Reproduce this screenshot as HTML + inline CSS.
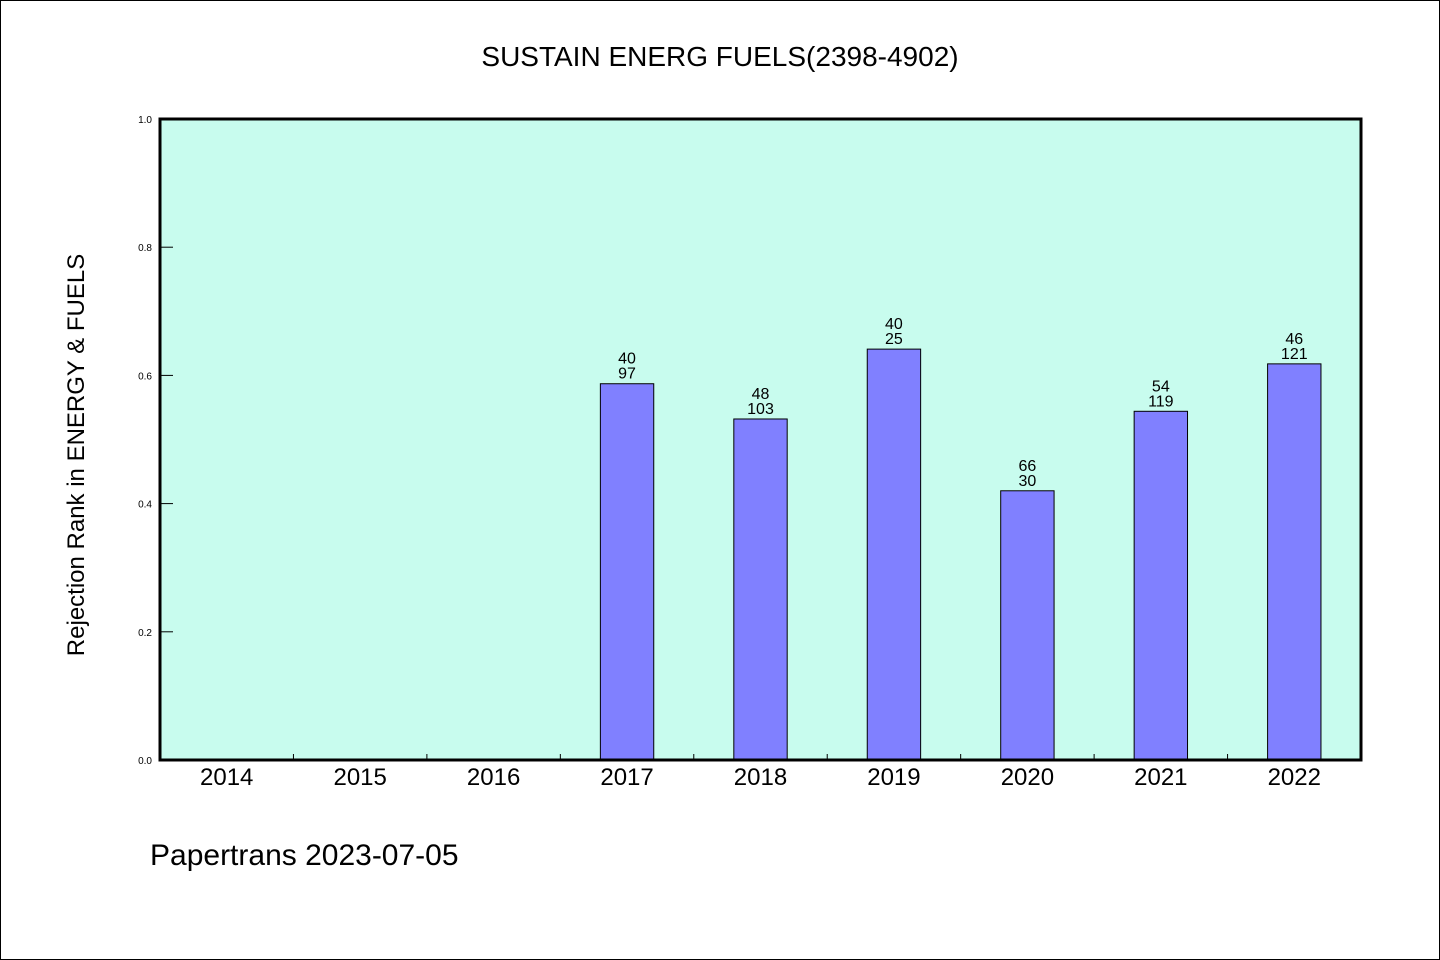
<!DOCTYPE html>
<html><head><meta charset="utf-8"><style>
body{margin:0;background:#fff;}
svg{display:block;}
text{font-family:"WenQuanYi Zen Hei","Liberation Sans",sans-serif;fill:#000;}
</style></head><body>
<svg id="chart" width="1440" height="960">
<rect x="0.5" y="0.5" width="1439" height="959" fill="#fff" stroke="#000"/>
<text x="720" y="66" font-size="28" text-anchor="middle">SUSTAIN ENERG FUELS(2398-4902)</text>
<rect x="160" y="119" width="1201" height="641" fill="#c8fcee"/>
<g id="marks"></g>
<rect x="160" y="119" width="1201" height="641" fill="none" stroke="#000" stroke-width="3"/>
<text transform="translate(84,455) rotate(-90)" font-size="24" text-anchor="middle">Rejection Rank in ENERGY &amp; FUELS</text>
<text x="150" y="865" font-size="30">Papertrans 2023-07-05</text>
</svg>
<script>
const categories=["2014","2015","2016","2017","2018","2019","2020","2021","2022"];
const values=[null,null,null,0.587,0.532,0.641,0.420,0.544,0.618];
const labelTop=["","","","40","48","40","66","54","46"];
const labelBottom=["","","","97","103","25","30","119","121"];
const yTicks=["0.0","0.2","0.4","0.6","0.8","1.0"];
const X0=160,X1=1361,Y0=760,Y1=119;
const band=(X1-X0)/categories.length;
const xc=i=>X0+band*(i+0.5);
const y=v=>Y0-(Y0-Y1)*v;
const g=document.getElementById('marks');
const NS='http://www.w3.org/2000/svg';
function mk(t,a){const e=document.createElementNS(NS,t);for(const k in a)e.setAttribute(k,a[k]);g.appendChild(e);return e;}
yTicks.forEach(t=>{const v=parseFloat(t);
 const l=mk('line',{x1:X0,x2:X0+13,y1:y(v),y2:y(v),stroke:'#000'});
 
 
 const tx=mk('text',{x:152,y:y(v)+4,'font-size':10,'text-anchor':'end'});tx.textContent=t;
 
 
});
categories.forEach((c,i)=>{
 if(i>0){const l=mk('line',{x1:X0+band*i,x2:X0+band*i,y1:Y0,y2:Y0-6,stroke:'#000'});
  
  }
 const tx=mk('text',{x:xc(i),y:785,'font-size':24,'text-anchor':'middle'});tx.textContent=c;
 
 
 const v=values[i];if(v==null)return;
 const w=band*0.4;
 const r=mk('rect',{x:xc(i)-w/2,y:y(v),width:w,height:Y0-y(v),fill:'#8080ff',stroke:'#000'});
 
 
 const a=mk('text',{x:xc(i),y:y(v)-20,'font-size':16,'text-anchor':'middle'});a.textContent=labelTop[i];
 
 
 const b=mk('text',{x:xc(i),y:y(v)-5,'font-size':16,'text-anchor':'middle'});b.textContent=labelBottom[i];
 
 
});
</script>
</body></html>
